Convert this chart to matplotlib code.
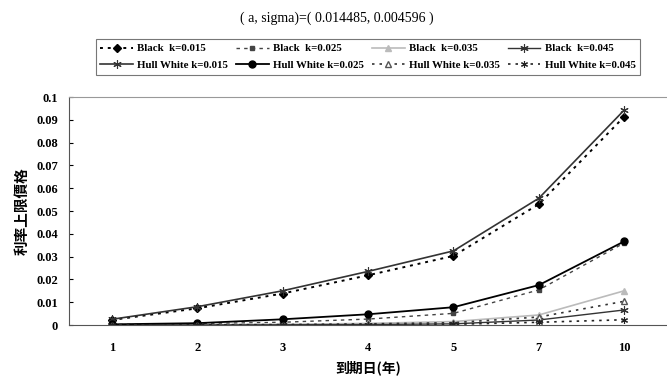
import numpy as np
from matplotlib import pyplot as plt
from matplotlib.ticker import MultipleLocator, FuncFormatter

# maturities (years) and cap prices
maturity = ['1', '2', '3', '4', '5', '7', '10']

black_015 = [0.0022, 0.0073, 0.0138, 0.0218, 0.0303, 0.0530, 0.0914]
black_025 = [0.0002, 0.0006, 0.0012, 0.0026, 0.0051, 0.0154, 0.0360]
black_035 = [0.0000, 0.0001, 0.0003, 0.0007, 0.0015, 0.0044, 0.0150]
black_045 = [0.0000, 0.0000, 0.0001, 0.0002, 0.0005, 0.0022, 0.0066]
hw_015 = [0.0025, 0.0080, 0.0150, 0.0235, 0.0325, 0.0556, 0.0943]
hw_025 = [0.0003, 0.0008, 0.0025, 0.0047, 0.0078, 0.0175, 0.0367]
hw_035 = [0.0000, 0.0001, 0.0002, 0.0005, 0.0010, 0.0035, 0.0104]
hw_045 = [0.0000, 0.0000, 0.0000, 0.0001, 0.0003, 0.0012, 0.0023]

labels = ['Black  k=0.015', 'Black  k=0.025', 'Black  k=0.035', 'Black  k=0.045',
          'Hull White k=0.015', 'Hull White k=0.025', 'Hull White k=0.035', 'Hull White k=0.045']

serif = 'Liberation Serif'
cjk = ['Noto Sans CJK TC', 'DejaVu Sans']

fig = plt.figure(figsize=(6.67, 3.8), dpi=100)
ax = fig.add_axes([69 / 667, 1 - 325 / 380, 598 / 667, 228 / 380])

x = np.arange(len(maturity))
star = (6, 2, 0)

h = []
h += ax.plot(x, black_015, color='black', ls=(0, (1.5, 2.5)), lw=1.4, marker='D', ms=4.5, label=labels[0])
h += ax.plot(x, black_025, color='#444444', ls=(0, (2.5, 3)), lw=1.0, marker='s', ms=2.5, label=labels[1])
h += ax.plot(x, black_035, color='#bbbbbb', ls='-', lw=1.2, marker='^', ms=5, label=labels[2])
h += ax.plot(x, black_045, color='#333333', ls='-', lw=1.0, marker=star, ms=6, mew=0.8, label=labels[3])
h += ax.plot(x, hw_015, color='#333333', ls='-', lw=1.2, marker=star, ms=6, mew=0.8, label=labels[4])
h += ax.plot(x, hw_025, color='black', ls='-', lw=1.3, marker='o', ms=5, label=labels[5])
h += ax.plot(x, hw_035, color='#333333', ls=(0, (1.5, 3)), lw=1.2, marker='^', ms=5,
             mfc='white', mec='#555555', label=labels[6])
h += ax.plot(x, hw_045, color='#222222', ls=(0, (1.5, 3)), lw=1.2, marker=star, ms=5, mew=0.8, label=labels[7])

ax.set_xlim(-0.5, len(maturity) - 0.5)
ax.set_ylim(0, 0.1)
ax.set_xticks(x)
ax.set_xticklabels(maturity, fontfamily=serif, fontsize=9, fontweight='bold')
ax.yaxis.set_major_locator(MultipleLocator(0.01))
ax.yaxis.set_major_formatter(FuncFormatter(lambda v, p: '%g' % round(v, 3)))
for t in ax.get_yticklabels():
    t.set_fontfamily(serif)
    t.set_fontsize(9)
    t.set_fontweight('bold')
ax.tick_params(axis='x', length=0, pad=12)
ax.tick_params(axis='y', direction='in', length=3, pad=8)

ax.spines['right'].set_visible(False)
ax.spines['top'].set_color('#999999')
ax.spines['left'].set_color('#555555')
ax.spines['bottom'].set_color('#555555')

ax.set_ylabel('利率上限價格', family=cjk, fontsize=10.5, fontweight='bold', labelpad=5)
ax.set_xlabel('到期日(年)', family=cjk, fontsize=10, fontweight='bold', labelpad=5)

fig.text(0.505, 1 - 18 / 380, '( a, sigma)=( 0.014485, 0.004596 )', ha='center', va='center',
         fontfamily=serif, fontsize=10)

# legend is filled column by column, so interleave Black / Hull White
order = [0, 4, 1, 5, 2, 6, 3, 7]
leg = fig.legend([h[i] for i in order], [labels[i] for i in order],
                 loc='center', bbox_to_anchor=(368 / 667, 1 - 57 / 380), ncol=4,
                 prop={'family': serif, 'size': 7.8, 'weight': 'bold'},
                 frameon=True, fancybox=False, edgecolor='#555555', handlelength=3.0,
                 handletextpad=0.4, columnspacing=0.75, labelspacing=0.65, borderpad=0.45)
leg.get_frame().set_linewidth(0.8)

fig.savefig('out.png', dpi=100)
